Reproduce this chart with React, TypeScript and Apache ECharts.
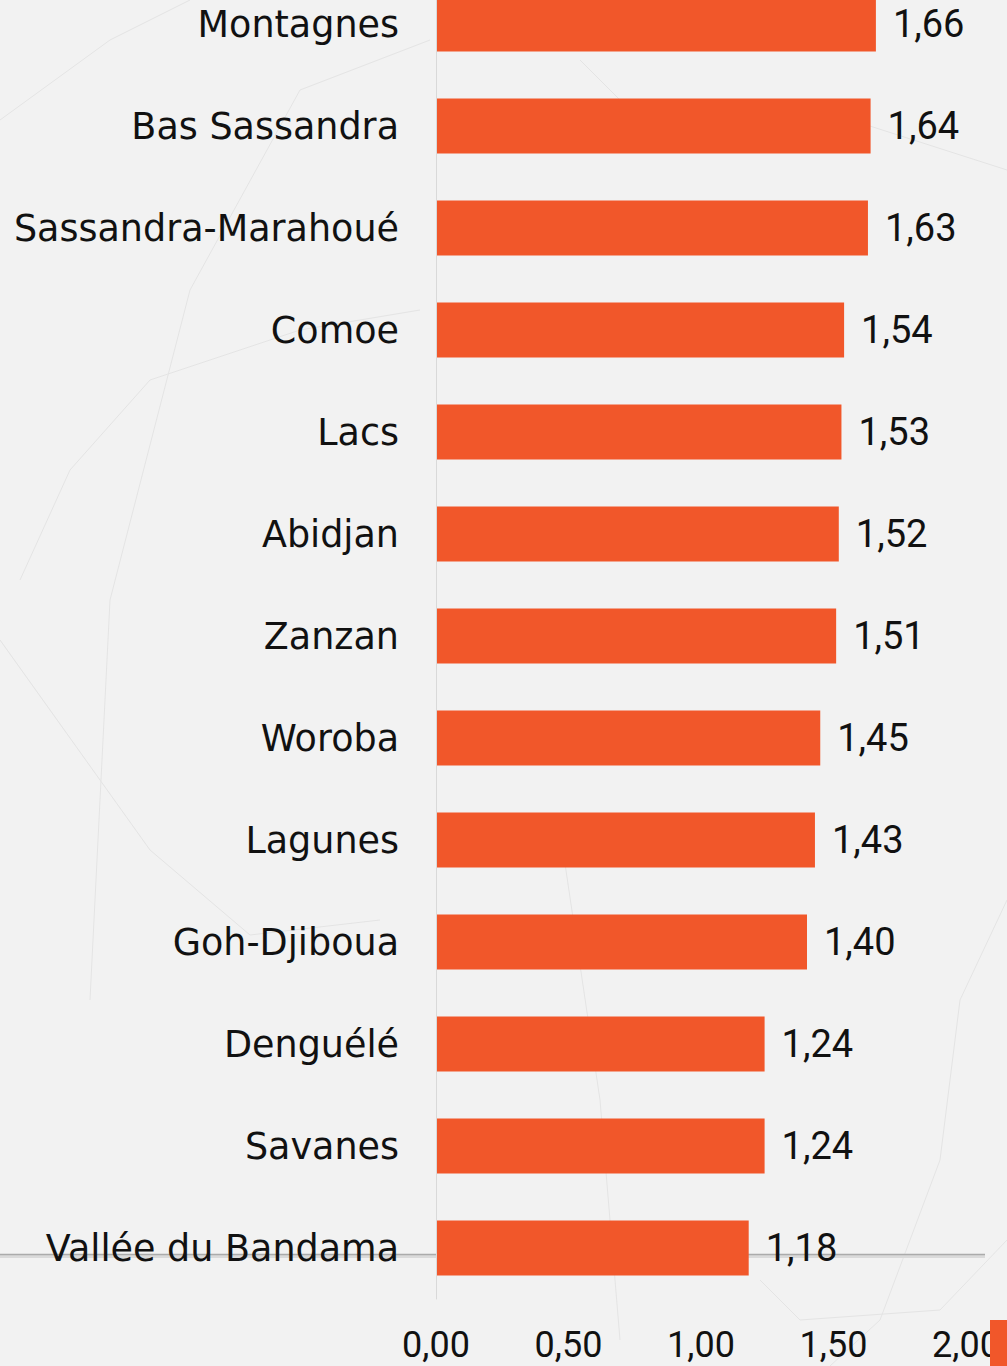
import React, { useEffect, useRef } from "react";
import * as echarts from "echarts";

const categories = [
  "Montagnes",
  "Bas Sassandra",
  "Sassandra-Marahoué",
  "Comoe",
  "Lacs",
  "Abidjan",
  "Zanzan",
  "Woroba",
  "Lagunes",
  "Goh-Djiboua",
  "Denguélé",
  "Savanes",
  "Vallée du Bandama",
];
const values = [1.66, 1.64, 1.63, 1.54, 1.53, 1.52, 1.51, 1.45, 1.43, 1.4, 1.24, 1.24, 1.18];
const axisMin = 0;
const axisMax = 2;
const axisStep = 0.5;

const fmt = (v: number) => v.toFixed(2).replace(".", ",");

const OFF = 27; // chart canvas is shifted up by this many pixels

export default function App() {
  const ref = useRef<HTMLDivElement>(null);
  useEffect(() => {
    if (!ref.current) return;
    const chart = echarts.init(ref.current, null, { renderer: "svg" });
    const faint = { stroke: "#e4e4e4", lineWidth: 1, fill: "none" };
    const pl = (pts: number[][]) => ({
      type: "polyline",
      z: 0,
      silent: true,
      shape: { points: pts.map(([x, y]) => [x, y + OFF]) },
      style: faint,
    });
    chart.setOption({
      animation: false,
      backgroundColor: "#f2f2f2",
      grid: { left: 436, width: 530, top: 0, height: 1326, containLabel: false },
      xAxis: {
        type: "value",
        z: 5,
        min: axisMin,
        max: axisMax,
        interval: axisStep,
        axisLine: { show: false },
        axisTick: { show: false },
        splitLine: { show: false },
        axisLabel: {
          formatter: (v: number) => fmt(v),
          fontFamily: "Roboto",
          fontSize: 36,
          lineHeight: 36,
          color: "#111",
          margin: 28,
        },
      },
      yAxis: {
        type: "category",
        z: 5,
        data: categories,
        inverse: true,
        axisLine: { show: true, lineStyle: { color: "#d9d9d9", width: 1 } },
        axisTick: { show: false },
        axisLabel: {
          fontFamily: "DejaVu Sans",
          fontSize: 36.5,
          color: "#111",
          margin: 37,
        },
      },
      graphic: [
        pl([[0, 120], [110, 40], [190, 0]]),
        pl([[20, 580], [70, 470], [150, 380], [300, 330], [420, 310]]),
        pl([[90, 1000], [110, 600], [190, 290], [300, 90], [430, 40]]),
        pl([[0, 640], [150, 850], [250, 935], [380, 920]]),
        pl([[580, 60], [640, 120], [820, 110], [1007, 170]]),
        pl([[560, 830], [600, 1100], [620, 1340]]),
        pl([[1007, 900], [960, 1000], [940, 1160], [880, 1320], [830, 1366]]),
        pl([[760, 1280], [800, 1320], [940, 1310], [1007, 1240]]),
        {
          type: "polyline",
          z: 0,
          silent: true,
          shape: { points: [[0, 1256.5 + OFF], [985, 1256.5 + OFF]] },
          style: { stroke: "#dadada", lineWidth: 3, fill: "none" },
        },
        {
          type: "polyline",
          z: 0,
          silent: true,
          shape: { points: [[0, 1254.5 + OFF], [985, 1254.5 + OFF]] },
          style: { stroke: "#ababab", lineWidth: 1.5, fill: "none" },
        },
        {
          type: "rect",
          z: 100,
          silent: true,
          shape: { x: 990, y: 1320 + OFF, width: 20, height: 50 },
          style: { fill: "#F1572A" },
        },
      ],
      series: [
        {
          type: "bar",
          data: values,
          z: 2,
          barWidth: "54%",
          itemStyle: { color: "#F1572A" },
          label: {
            show: true,
            position: "right",
            distance: 17,
            formatter: (p: any) => fmt(p.value),
            fontFamily: "Roboto",
            fontSize: 38,
            color: "#111",
          },
        },
      ],
    });
    return () => chart.dispose();
  }, []);
  return (
    <div
      ref={ref}
      style={{ position: "fixed", left: 0, top: -OFF, width: 1007, height: 1366 + OFF }}
    />
  );
}
